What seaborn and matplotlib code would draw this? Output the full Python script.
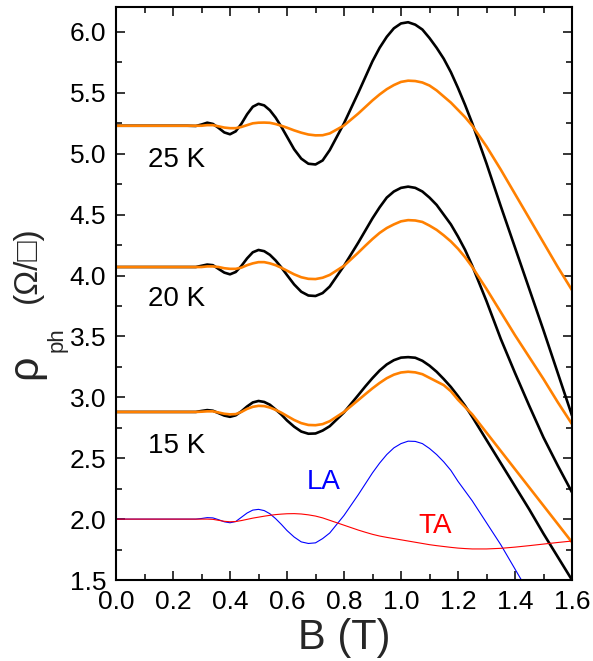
import numpy as np
import pandas as pd
import matplotlib
matplotlib.use("Agg")
import matplotlib.pyplot as plt
import seaborn as sns
from matplotlib.ticker import MultipleLocator, FormatStrFormatter

# ---------------- data ----------------
B = [0.00, 0.10, 0.20, 0.25, 0.28, 0.30, 0.32, 0.34, 0.36, 0.38, 0.40, 0.42, 0.44, 0.46,
     0.48, 0.50, 0.52, 0.54, 0.56, 0.58, 0.60, 0.625, 0.65, 0.675, 0.70, 0.725, 0.75,
     0.80, 0.85, 0.875, 0.90, 0.925, 0.95, 0.975, 1.00, 1.025, 1.05, 1.075, 1.10, 1.125,
     1.15, 1.175, 1.20, 1.225, 1.25, 1.30, 1.35, 1.40, 1.45, 1.50, 1.55, 1.60]

rho25_black = [5.23, 5.23, 5.23, 5.23, 5.228, 5.24, 5.255, 5.245, 5.212, 5.175, 5.16, 5.184,
               5.246, 5.324, 5.386, 5.41, 5.397, 5.357, 5.297, 5.222, 5.14, 5.037, 4.96,
               4.918, 4.912, 4.945, 5.03, 5.25, 5.50, 5.63, 5.76, 5.87, 5.96, 6.03, 6.07,
               6.08, 6.06, 6.02, 5.95, 5.87, 5.78, 5.67, 5.54, 5.40, 5.25, 4.92, 4.57,
               4.23, 3.89, 3.55, 3.20, 2.85]
rho25_orange = [5.23, 5.23, 5.23, 5.23, 5.23, 5.23, 5.235, 5.235, 5.225, 5.215, 5.21, 5.21,
                5.22, 5.235, 5.25, 5.255, 5.256, 5.254, 5.244, 5.23, 5.214, 5.192, 5.173,
                5.158, 5.151, 5.152, 5.167, 5.232, 5.33, 5.384, 5.438, 5.487, 5.53, 5.564,
                5.59, 5.60, 5.597, 5.585, 5.56, 5.52, 5.47, 5.42, 5.36, 5.30, 5.23, 5.06,
                4.87, 4.67, 4.47, 4.27, 4.07, 3.88]
rho20_black = [4.07, 4.07, 4.07, 4.07, 4.07, 4.08, 4.09, 4.085, 4.054, 4.024, 4.01, 4.029,
               4.079, 4.141, 4.191, 4.21, 4.20, 4.17, 4.124, 4.067, 4.004, 3.927, 3.867,
               3.836, 3.832, 3.856, 3.91, 4.08, 4.27, 4.37, 4.47, 4.56, 4.64, 4.69, 4.72,
               4.73, 4.72, 4.69, 4.64, 4.58, 4.50, 4.42, 4.32, 4.21, 4.08, 3.79, 3.48,
               3.20, 2.93, 2.67, 2.44, 2.22]
rho20_orange = [4.07, 4.07, 4.07, 4.07, 4.07, 4.07, 4.075, 4.075, 4.07, 4.06, 4.055, 4.055,
                4.065, 4.085, 4.10, 4.11, 4.11, 4.10, 4.085, 4.064, 4.04, 4.01, 3.986,
                3.973, 3.971, 3.982, 4.005, 4.08, 4.188, 4.245, 4.30, 4.35, 4.39, 4.42,
                4.445, 4.455, 4.452, 4.44, 4.41, 4.375, 4.33, 4.28, 4.22, 4.15, 4.07, 3.89,
                3.70, 3.51, 3.33, 3.15, 2.96, 2.78]
rho15_black = [2.88, 2.88, 2.88, 2.88, 2.88, 2.888, 2.895, 2.89, 2.87, 2.85, 2.84, 2.852,
               2.885, 2.925, 2.958, 2.97, 2.962, 2.939, 2.90, 2.859, 2.81, 2.759, 2.719,
               2.701, 2.703, 2.727, 2.763, 2.876, 3.018, 3.09, 3.158, 3.22, 3.27, 3.305,
               3.326, 3.33, 3.325, 3.30, 3.26, 3.21, 3.15, 3.085, 3.01, 2.93, 2.84, 2.65,
               2.46, 2.27, 2.08, 1.88, 1.69, 1.50]
rho15_orange = [2.88, 2.88, 2.88, 2.88, 2.88, 2.882, 2.885, 2.885, 2.875, 2.865, 2.86, 2.862,
                2.88, 2.905, 2.922, 2.93, 2.928, 2.916, 2.897, 2.874, 2.847, 2.814, 2.788,
                2.773, 2.771, 2.78, 2.804, 2.88, 2.977, 3.026, 3.074, 3.118, 3.157, 3.186,
                3.204, 3.21, 3.205, 3.19, 3.16, 3.13, 3.10, 3.05, 2.98, 2.92, 2.86, 2.71,
                2.56, 2.41, 2.26, 2.11, 1.96, 1.81]
rho_LA = [2.00, 2.00, 2.00, 2.00, 2.00, 2.005, 2.012, 2.01, 1.995, 1.978, 1.97, 1.98,
          2.015, 2.05, 2.074, 2.08, 2.07, 2.044, 2.004, 1.957, 1.906, 1.853, 1.813,
          1.80, 1.805, 1.84, 1.886, 2.03, 2.20, 2.29, 2.38, 2.46, 2.53, 2.585, 2.62,
          2.64, 2.638, 2.62, 2.58, 2.53, 2.47, 2.40, 2.31, 2.23, 2.15, 1.97, 1.79,
          1.59, 1.39, np.nan, np.nan, np.nan]
rho_TA = [2.00, 2.00, 2.00, 2.00, 2.00, 2.00, 2.00, 1.998, 1.99, 1.982, 1.978, 1.98,
          1.988, 1.998, 2.008, 2.016, 2.024, 2.031, 2.037, 2.041, 2.044, 2.045, 2.042,
          2.035, 2.025, 2.01, 1.99, 1.95, 1.91, 1.892, 1.875, 1.861, 1.85, 1.84, 1.83,
          1.82, 1.81, 1.80, 1.79, 1.782, 1.775, 1.768, 1.762, 1.758, 1.755, 1.755, 1.76,
          1.77, 1.782, 1.795, 1.808, 1.82]

x_ticks = [0.0, 0.2, 0.4, 0.6, 0.8, 1.0, 1.2, 1.4, 1.6]
y_ticks = [1.5, 2.0, 2.5, 3.0, 3.5, 4.0, 4.5, 5.0, 5.5, 6.0]
temp_labels = ["25 K", "20 K", "15 K"]
temp_label_y = [4.89, 3.75, 2.54]

# ---------------- style ----------------
sns.set_style("ticks")
plt.rcParams["font.family"] = ["Liberation Sans", "DejaVu Sans"]

fig = plt.figure(figsize=(5.93, 6.61), dpi=100)
ax = fig.add_axes([116 / 593, 1 - 580 / 661, 456 / 593, 573 / 661])

curves = [
    (rho25_black, "black", 1.9), (rho25_orange, "#FF8000", 1.9),
    (rho20_black, "black", 1.9), (rho20_orange, "#FF8000", 1.9),
    (rho15_black, "black", 1.9), (rho15_orange, "#FF8000", 1.9),
    (rho_LA, "#0000FF", 0.8), (rho_TA, "#FF0000", 0.8),
]
for vals, col, lw in curves:
    df = pd.DataFrame({"B": B, "rho": vals}).dropna()
    sns.lineplot(data=df, x="B", y="rho", color=col, linewidth=lw, ax=ax,
                 estimator=None, sort=False)

ax.set_xlim(0.0, 1.6)
ax.set_ylim(1.5, 6.205)
ax.set_xticks(x_ticks)
ax.set_yticks(y_ticks)
ax.xaxis.set_minor_locator(MultipleLocator(0.1))
ax.yaxis.set_minor_locator(MultipleLocator(0.25))
ax.xaxis.set_major_formatter(FormatStrFormatter("%.1f"))
ax.yaxis.set_major_formatter(FormatStrFormatter("%.1f"))
ax.tick_params(which="both", direction="in", top=True, right=True, width=1.1,
               labelsize=19, color="black", labelcolor="black")
ax.tick_params(which="major", length=6.5, pad=7)
ax.tick_params(which="minor", length=4)
for s in ax.spines.values():
    s.set_linewidth(1.5)
    s.set_color("black")

ax.set_xlabel("B (T)", fontsize=30, labelpad=3)
ax.set_ylabel("")

# y label pieces
ax.text(-0.198, 0.373, "ρ", transform=ax.transAxes, rotation=90, fontsize=31,
        ha="center", va="center")
ax.text(-0.129, 0.419, "ph", transform=ax.transAxes, rotation=90, fontsize=16,
        ha="center", va="center")
ax.text(-0.195, 0.55, "(Ω/□)", transform=ax.transAxes, rotation=90, fontsize=24,
        ha="center", va="center", family=["Liberation Sans", "DejaVu Sans"])

for lab, yv in zip(temp_labels, temp_label_y):
    ax.text(0.112, yv, lab, fontsize=20, ha="left", va="baseline", color="black")
ax.text(0.67, 2.247, "LA", fontsize=20, ha="left", va="baseline", color="#0000FF")
ax.text(1.06, 1.886, "TA", fontsize=20, ha="left", va="baseline", color="#FF0000")

fig.savefig("out.png", dpi=100)
